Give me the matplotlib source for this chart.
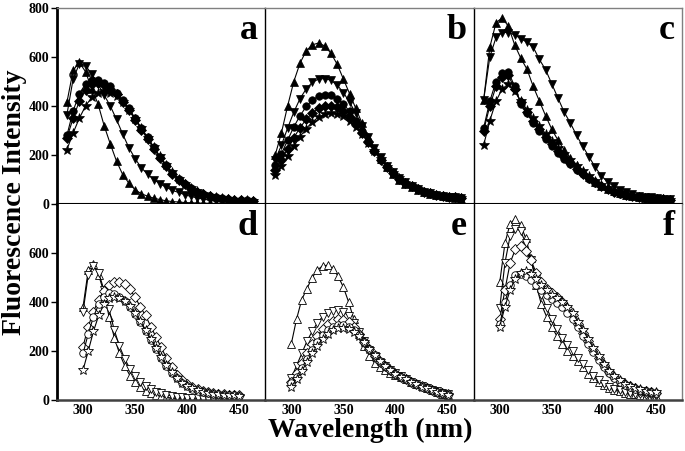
import matplotlib
matplotlib.use("Agg")
import matplotlib.pyplot as plt

plt.rcParams['font.family'] = ['Liberation Serif', 'DejaVu Serif']
plt.rcParams['font.weight'] = 'bold'

wavelength = list(range(300, 451, 5))

# ---- panel a (filled markers) ----
a_up   = [415,545,578,540,470,410,320,245,175,120,85,58,42,32,24,18,13,10,8,6,5,4,3,3,2,2,2,1,1,1,1]
a_down = [365,510,572,565,530,490,445,400,345,285,230,185,148,122,100,83,68,56,47,38,31,25,20,16,13,11,9,8,7,6,5]
a_circ = [280,380,450,490,505,505,495,480,455,425,390,350,310,272,232,193,158,128,103,82,65,51,41,33,27,23,20,18,16,15,14]
a_diam = [270,350,420,465,488,492,485,470,448,418,383,344,304,265,226,188,154,124,100,80,63,50,40,32,26,22,19,17,15,14,13]
a_star = [222,290,350,400,435,455,460,455,440,415,385,348,310,270,232,195,160,130,104,83,66,52,42,34,28,23,20,18,16,15,14]

# ---- panel b ----
b_up   = [200,290,400,500,575,625,650,657,645,615,570,510,450,390,330,275,225,185,150,122,100,82,68,57,48,41,35,31,27,24,21]
b_down = [180,240,310,375,430,470,497,510,512,505,485,455,415,370,320,272,228,190,157,130,107,88,73,61,51,44,38,34,30,27,25]
b_circ = [160,205,260,315,360,398,425,440,446,443,430,408,378,340,298,256,216,181,151,125,104,86,72,60,51,44,38,34,30,27,25]
b_diam = [140,180,225,270,312,345,372,390,400,402,395,380,357,327,290,252,215,181,151,125,104,86,72,60,51,44,38,34,30,27,25]
b_star = [120,155,195,235,275,308,335,355,366,370,368,358,340,315,285,250,215,182,152,126,105,87,72,60,51,44,38,34,30,27,25]

# ---- panel c ----
c_up   = [424,640,740,760,725,650,595,550,480,420,360,305,260,220,188,160,133,110,91,75,62,52,44,38,33,29,26,24,22,20,19]
c_down = [424,600,680,700,700,690,675,660,640,590,548,490,432,375,330,280,235,193,150,115,90,72,58,48,40,34,30,27,24,22,20]
c_circ = [310,420,500,535,540,480,410,370,330,298,265,235,210,185,162,140,121,103,87,73,60,50,42,36,31,27,24,22,20,19,18]
c_diam = [300,400,480,520,525,470,415,375,338,305,272,243,216,190,166,144,124,105,89,74,61,51,43,36,31,27,24,22,20,19,18]
c_star = [240,340,420,470,490,460,420,385,350,318,287,258,230,203,178,155,133,113,95,79,65,54,45,38,32,28,25,22,20,19,18]

# ---- panel d (open markers) ----
d_up   = [380,530,555,510,440,340,255,190,140,100,72,52,38,28,20,15,11,8,6,5,4,3,3,2,2,2,1,1,1,1,1]
d_down = [360,510,545,520,450,370,285,220,168,128,97,74,57,44,34,27,21,17,14,11,9,8,7,6,5,5,4,4,3,3,3]
d_diam = [218,300,360,410,445,470,482,483,475,452,420,380,345,300,258,215,172,135,103,80,64,53,44,37,32,28,25,23,21,20,19]
d_circ = [190,270,340,390,420,435,432,422,405,380,350,318,283,245,208,172,140,112,88,70,56,46,38,33,29,26,23,21,20,19,18]
d_star = [122,200,280,345,390,415,422,418,405,383,355,322,287,250,212,176,143,114,90,71,57,47,39,33,29,26,23,21,20,19,18]

# ---- panel e ----
e_up   = [230,330,410,455,500,530,548,550,535,505,460,400,330,270,220,180,150,135,122,112,104,95,85,75,65,56,47,39,32,26,22]
e_down = [90,140,190,240,280,315,340,357,365,367,360,343,315,278,240,205,178,155,137,122,110,97,86,75,66,57,49,42,35,29,24]
e_diam = [75,110,150,190,228,262,290,310,324,330,328,318,298,270,238,207,180,157,138,122,108,95,84,74,65,56,48,41,34,28,23]
e_circ = [68,95,130,168,205,238,265,285,300,307,307,300,286,264,238,210,183,160,140,123,108,95,84,74,64,55,47,40,33,27,22]
e_star = [55,85,118,155,190,222,250,270,285,293,295,290,278,260,236,210,183,160,140,123,108,95,84,73,64,55,47,40,33,27,22]

# ---- panel f ----
f_up   = [480,640,720,740,715,660,580,470,390,340,298,260,228,200,180,160,135,108,88,72,60,50,42,35,30,26,23,20,18,16,15]
f_down = [375,560,670,700,690,640,570,495,430,375,330,290,255,225,198,172,147,122,100,82,67,55,46,39,33,29,26,23,21,19,17]
f_diam = [330,450,560,615,630,610,570,520,480,455,435,420,400,375,345,310,275,240,205,172,142,116,95,78,66,56,48,42,37,33,30]
f_circ = [310,400,470,510,515,505,490,470,450,430,412,395,378,356,330,298,262,228,195,163,135,110,90,74,62,53,46,40,35,32,29]
f_star = [300,380,450,495,520,525,515,495,470,448,430,418,402,380,355,320,285,248,212,178,147,120,98,80,67,57,49,43,38,34,31]

panels = {
    'a': [a_up, a_down, a_circ, a_diam, a_star],
    'b': [b_up, b_down, b_circ, b_diam, b_star],
    'c': [c_up, c_down, c_circ, c_diam, c_star],
    'd': [d_up, d_down, d_diam, d_circ, d_star],
    'e': [e_up, e_down, e_diam, e_circ, e_star],
    'f': [f_up, f_down, f_diam, f_circ, f_star],
}
top_markers = ['^', 'v', 'o', 'D', '*']
bottom_markers = ['^', 'v', 'D', 'o', '*']
marker_sizes = {'^': 5.8, 'v': 5.8, 'o': 5.4, 'D': 4.6, '*': 7.0}
top_yticks = [0, 200, 400, 600, 800]
bottom_yticks = [0, 200, 400, 600]
xticks = [300, 350, 400, 450]

W, H = 685, 451
fig = plt.figure(figsize=(W/100, H/100), dpi=100)

lefts = [57, 265.3, 473.7]
pw = 208.3
rows = {'top': (8, 204), 'bottom': (204, 400)}
letters = [['a', 'b', 'c'], ['d', 'e', 'f']]

for r, rowname in enumerate(['top', 'bottom']):
    y0, y1 = rows[rowname]
    for c in range(3):
        ax = fig.add_axes([lefts[c]/W, 1 - y1/H, pw/W, (y1 - y0)/H])
        letter = letters[r][c]
        markers = top_markers if r == 0 else bottom_markers
        for series, m in zip(panels[letter], markers):
            ms = marker_sizes[m]
            if r == 0:
                ax.plot(wavelength, series, color='black', lw=0.8, marker=m,
                        ms=ms, mfc='black', mec='black', mew=0.5)
            else:
                ax.plot(wavelength, series, color='black', lw=0.8, marker=m,
                        ms=ms, mfc='white', mec='black', mew=0.6)
        if r == 0:
            ax.set_xlim(292, 460)
        else:
            ax.set_xlim(275, 475)
        ax.set_ylim(0, 800)
        ax.text(0.965, 0.97, letter, transform=ax.transAxes, ha='right', va='top',
                fontsize=26, fontweight='bold')
        for s in ax.spines.values():
            s.set_color('black')
            s.set_linewidth(1.0)
        ax.spines['left'].set_linewidth(2.0 if c == 0 else 1.0)
        if r == 0:
            ax.spines['top'].set_color('#808080')
            ax.spines['bottom'].set_linewidth(1.5)
        else:
            ax.spines['top'].set_visible(False)
            ax.spines['bottom'].set_color('#404040')
            ax.spines['bottom'].set_linewidth(1.8)
        if c == 2:
            ax.spines['right'].set_color('#808080')
        else:
            ax.spines['right'].set_visible(False)
        if c == 0:
            ax.set_yticks(top_yticks if r == 0 else bottom_yticks)
            ax.tick_params(axis='y', length=4, width=1, pad=1.5, labelsize=10)
        else:
            ax.set_yticks([])
        if r == 1:
            ax.set_xticks(xticks)
            ax.tick_params(axis='x', length=0, pad=3, labelsize=10)
        else:
            ax.set_xticks([])
        for lab in ax.get_xticklabels() + ax.get_yticklabels():
            lab.set_fontweight('bold')

fig.text(15/W, 1 - 202/H, 'Fluorescence Intensity', rotation=90, ha='center', va='center',
         fontsize=20, fontweight='bold')
fig.text(370/W, 1 - 430/H, 'Wavelength (nm)', ha='center', va='center',
         fontsize=20, fontweight='bold')

fig.savefig('out.png', dpi=100)
